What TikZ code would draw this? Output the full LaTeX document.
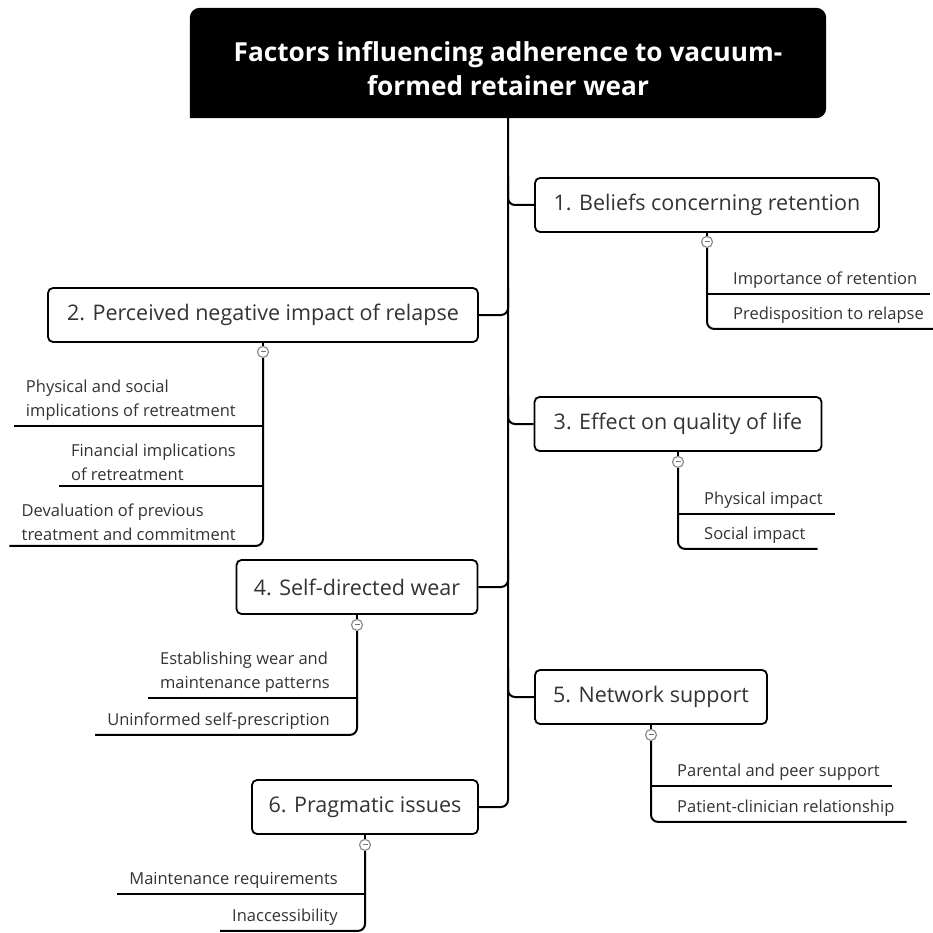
\documentclass[tikz,border=0pt]{standalone}
\usepackage{fontspec}
\setmainfont{Open Sans}
\usepackage{tikz}
\usetikzlibrary{positioning, backgrounds, calc}

\begin{document}
\begin{tikzpicture}[
        x=1pt, y=-1pt,
        rootbox/.style={minimum width=636pt, minimum height=110pt, text=white, align=center, font=\fontsize{26.2}{34}\selectfont\bfseries},
        topic/.style={rectangle, rounded corners=5pt, draw=black, line width=1.8pt, fill=white, minimum height=54pt, text=black!80, font=\fontsize{21.5}{25}\selectfont},
        toggle/.style={circle, draw=black!45, fill=white, line width=1.2pt, minimum size=11pt, inner sep=0pt,
            path picture={\draw[black!55, line width=0.9pt] ([xshift=-2.5pt]path picture bounding box.center) -- ([xshift=2.5pt]path picture bounding box.center);}},
        leafR/.style={anchor=south west, align=left, inner xsep=0pt, inner ysep=5pt, text=black!80, font=\fontsize{16.5}{24}\selectfont},
        leafL/.style={leafR, anchor=south east},
        link/.style={line width=2pt, rounded corners=7pt}
    ]

        \useasboundingbox (0,0) rectangle (933,933);

        % ===== 中心主题 =====
        \node (root) [rootbox] at (508,63) {\rule{0pt}{32pt}Factors influencing adherence to vacuum-\\formed retainer wear};
        \begin{scope}[on background layer]
            \fill[white] (0,0) rectangle (933,933);
            \fill[black] (root.south west) [rounded corners=10pt] |- (root.north) -| (root.south east) [sharp corners] -- cycle;
        \end{scope}

        % ===== 主分支 =====
        \node (beliefs) [topic, minimum width=344pt] at (707,205) {1. Beliefs concerning retention};
        \node (relapse) [topic, minimum width=430pt] at (263,315) {2. Perceived negative impact of relapse};
        \node (quality) [topic, minimum width=287pt] at (678,424) {3. Effect on quality of life};
        \node (selfWear) [topic, minimum width=241pt] at (357,587) {4. Self-directed wear};
        \node (network) [topic, minimum width=232pt] at (651,697) {5. Network support};
        \node (pragmatic) [topic, minimum width=226pt] at (365,807) {6. Pragmatic issues};

        % ===== 主干连线 =====
        \draw [link] (root.south) |- (pragmatic.east);
        \draw [link] (root.south |- beliefs.north) |- (beliefs.west);
        \draw [link] (root.south |- relapse.north) |- (relapse.east);
        \draw [link] (root.south |- quality.north) |- (quality.west);
        \draw [link] (root.south |- selfWear.north) |- (selfWear.east);
        \draw [link] (root.south |- network.north) |- (network.west);

        % ===== 折叠按钮 =====
        \node (beliefsT) [toggle] at ($(beliefs.south)+(0,9)$) {};
        \node (relapseT) [toggle] at ($(relapse.south)+(0,9)$) {};
        \node (qualityT) [toggle] at ($(quality.south)+(0,10)$) {};
        \node (selfWearT) [toggle] at ($(selfWear.south)+(0,10)$) {};
        \node (networkT) [toggle] at ($(network.south)+(0,10)$) {};
        \node (pragmaticT) [toggle] at ($(pragmatic.south)+(0,10)$) {};

        % ===== 子主题 =====
        \node (importance) [leafR] at ($(beliefsT)+(26,52)$) {Importance of retention};
        \node (predisposition) [leafR] at ($(beliefsT)+(26,87)$) {Predisposition to relapse};

        \node (physSocial) [leafL] at ($(relapseT)+(-27,74)$) {Physical and social\\implications of retreatment};
        \node (financial) [leafL] at ($(relapseT)+(-27,134)$) {Financial implications\\of retreatment};
        \node (devaluation) [leafL] at ($(relapseT)+(-27,194)$) {Devaluation of previous\\treatment and commitment};

        \node (physical) [leafR] at ($(qualityT)+(26,52)$) {Physical impact};
        \node (social) [leafR] at ($(qualityT)+(26,87)$) {Social impact};

        \node (establishing) [leafL] at ($(selfWearT)+(-27,73)$) {Establishing wear and\\maintenance patterns};
        \node (uninformed) [leafL] at ($(selfWearT)+(-27,110)$) {Uninformed self-prescription};

        \node (parental) [leafR] at ($(networkT)+(26,51)$) {Parental and peer support};
        \node (clinician) [leafR] at ($(networkT)+(26,87)$) {Patient-clinician relationship};

        \node (maintenance) [leafL] at ($(pragmaticT)+(-27,49)$) {Maintenance requirements};
        \node (access) [leafL] at ($(pragmaticT)+(-27,86)$) {Inaccessibility};

        % ===== 子主题连线 =====
        \foreach \b in {beliefs, relapse, quality, selfWear, network, pragmatic}
            \draw [line width=1.8pt] (\b.south) -- (\b T.north);

        \draw [link] (beliefsT.south) |- ($(predisposition.south east)+(12,0)$);
        \draw [link] (beliefsT |- importance.south) -- ($(importance.south east)+(12,0)$);

        \draw [link] (relapseT.south) |- ($(devaluation.south west)+(-12,0)$);
        \draw [link] (relapseT |- physSocial.south) -- ($(physSocial.south west)+(-12,0)$);
        \draw [link] (relapseT |- financial.south) -- ($(financial.south west)+(-12,0)$);

        \draw [link] (qualityT.south) |- ($(social.south east)+(12,0)$);
        \draw [link] (qualityT |- physical.south) -- ($(physical.south east)+(12,0)$);

        \draw [link] (selfWearT.south) |- ($(uninformed.south west)+(-12,0)$);
        \draw [link] (selfWearT |- establishing.south) -- ($(establishing.south west)+(-12,0)$);

        \draw [link] (networkT.south) |- ($(clinician.south east)+(12,0)$);
        \draw [link] (networkT |- parental.south) -- ($(parental.south east)+(12,0)$);

        \draw [link] (pragmaticT.south) |- ($(access.south west)+(-12,0)$);
        \draw [link] (pragmaticT |- maintenance.south) -- ($(maintenance.south west)+(-12,0)$);

    \end{tikzpicture}
\end{document}
